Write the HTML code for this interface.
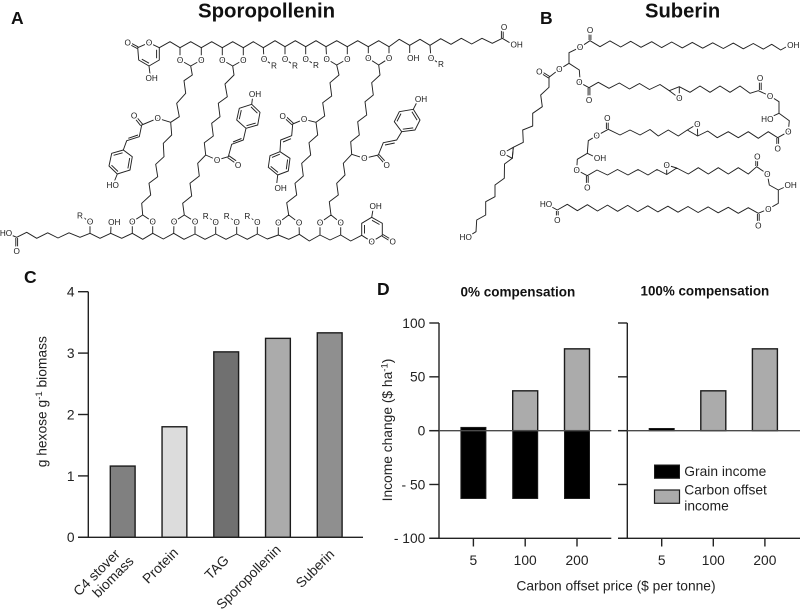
<!DOCTYPE html>
<html lang="en">
<head>
<meta charset="utf-8">
<title>Sporopollenin and suberin figure</title>
<style>
html,body{margin:0;padding:0;background:#fff;}
svg{display:block;font-family:"Liberation Sans",sans-serif;}
.b{fill:none;stroke:#222;stroke-width:.95;stroke-linejoin:round;}
.a text{font-size:8.2px;text-anchor:middle;fill:#1a1a1a;stroke:#fff;stroke-width:3.4px;paint-order:stroke;}
.l{font-size:13.8px;fill:#222;}
.t{font-weight:bold;fill:#111;}
</style>
</head>
<body>
<svg id="fig" width="800" height="613" viewBox="0 0 800 613" xmlns="http://www.w3.org/2000/svg">
<rect width="800" height="613" fill="#fff"/>
<text class="t" x="11" y="24" font-size="17.5">A</text>
<text class="t" x="540" y="24" font-size="17.5">B</text>
<text class="t" x="24" y="283" font-size="17.5">C</text>
<text class="t" x="377" y="295" font-size="17.5">D</text>
<text class="t" x="198" y="17.5" font-size="20.4">Sporopollenin</text>
<text class="t" x="645" y="17.5" font-size="20.2">Suberin</text>

<g>
<path class="b" d="M159.3,47.7 L170,41.7 180,47.7 190.7,41.7 201.3,47.7 211.7,41.7 222.3,47.7 232.7,41.7 243.3,47.7 253.3,41.7 263.3,47.7 275,40.7 285,46.7 295.3,40.7 305.7,46.7 316,40.7 326,46.7 336.7,40.7 347.3,46.7 357.7,40.7 368.3,46.7 378.7,40.7 389,46.7 399.3,39.3 409.7,45.3 420,39.3 430,45.3 440.7,38.7 451,44.3 461.3,38.3 471.7,44 482,38.3 492.3,43.3 502.3,38.3 511,43.5 M501.4,38 V27 M503.2,38 V27"/>
<path class="b" d="M180,47.7 V60 L190.7,66 201.3,60 V47.7 M222.3,47.7 V60 L232.7,66 243.3,60 V47.7 M326,46.7 L326.7,59 336.7,65 347.3,59 V46.7 M368.3,46.7 V58.3 L378.7,65 389,58.3 V46.7 M263.3,47.7 L264,59.3 274,65.7 M285,46.7 V59.3 L295,65.7 M305.7,46.7 V59.3 L316,65 M409.7,45.3 V53 M430,45.3 L431,58.3 441,64.3"/>
<path class="b" d="M159.3,47.7 L149,42.7 137.7,47.7 138.7,60 149,66 159.3,60 Z M141.8,59.2 L149,63.2 M156.6,58.2 V49.8 M137.2,48.5 L128,43.6 M138.2,46.9 L129,42 M149,66 L150,74"/>
<path class="b" d="M190.7,66 L192.3,75 184,80.7 185.7,93.3 176.7,103.3 179.3,116.7 170.7,122.3 171.7,135 163.3,143.3 164,156.7 155.7,164.3 157.7,176.7 149,183.3 150.7,195 141.7,203.3 142.7,215 M170.7,122.3 L157.7,118.3 141.7,125 139.3,136.7 126.7,140.7 123.3,150 M140.7,125.7 L135,118.5 M142.7,124.3 L137,117.5 M128.3,138.3 L138,135 M232.7,66 L234,75 225,84 227.3,96.7 218.3,103.3 220,116.7 211.7,123.3 213.3,136 204.3,142.7 205.7,155 197.7,163.3 199.3,176 190,183.3 191.7,196 182.7,203.3 184.3,215 M205.7,155 L217,160 228.3,156.7 231.7,144.3 243.3,140 246,128.3 M227.6,157.6 L235.8,163.4 M229,155.8 L237.6,161.8 M233,142 L241.5,138.5"/>
<path class="b" d="M336.7,65 L339,75 330,82.7 331.7,96 322.7,102.7 324.7,116 316,122.3 317.7,135 309,142.7 310.7,155 301.7,163.3 303.3,176 295,183.3 296.7,195 286.7,202.7 288.7,215 M316,122.3 L304,119.3 292.7,124 291.7,135.7 280.7,140 280,151.7 M292,124.8 L284.5,118 M293.4,123.2 L285.5,116 M283,142 L291,138.7 M378.7,65 L380,75 371.7,82.7 373.3,95 365,101.7 366.7,115 357.7,121.7 359.3,135 350.7,141.7 351.7,154.3 343.3,163.3 345,175 336.7,183.3 338.3,195 329.3,201.7 331,215 M351.7,154.3 L364.3,158.3 378.3,155 383.3,142.7 396.7,140 401.7,131.7 M377.6,155.8 L384.8,164 M379.1,154.6 L386.3,162.6 M385,145 L394.7,143"/>
<path class="b" d="M123.3,150 L132.3,156.7 130,170 117.3,174 109,166 111.7,153.3 Z M129.7,158 L127.9,168.4 M118,171.5 L111.5,165.2 M113.6,155.3 L122.6,152.8 M117.3,174 L114.5,181 M246,128.3 L236.7,120 239.3,108.3 251.7,104.3 260,112.3 257.7,125 Z M239.3,119.2 L241.3,110.1 M251,106.9 L257.4,113.2 M255.7,123.1 L246.5,125.7 M251.7,104.3 L252.5,98 M280,151.7 L290,158.3 288.3,171 277.7,175 268.3,167.3 270,155.7 Z M287.6,159.4 L286.3,169.3 M278,172.4 L270.7,166.4 M272,157.4 L279.8,154.2 M277.7,175 L276.8,183 M401.7,131.7 L394.3,121.7 399.3,111.7 413.3,109.3 420,120 415,130 Z M397,121.4 L401,113.6 M411.9,111.7 L417.1,120.1 M413.2,127.9 L402.8,129.2 M413.3,109.3 L416.5,103"/>
<path class="b" d="M10,234.5 L16.7,237.3 26.7,232.3 36.7,238.3 47.7,232.8 58,238 69,232.8 80,237.3 90,233.3 100,238.3 110.7,233.3 121.7,238.3 132.3,233.3 142.7,239.3 152.7,233.3 163.3,239 173.7,233.3 184,239.3 195,234 205,239.3 215.7,234 226,239.3 236.7,234 247.3,239.3 257.3,234 267.3,239 278.3,235 288.7,239.3 299.3,234.3 309.3,241 320,235 330,240 340.7,235 350.7,241 361.7,235.3 M15.8,238 V248 M17.6,238 V248"/>
<path class="b" d="M90,233.3 V221.7 L80,215.7 M110.7,233.3 L111,226 M132.3,233.3 V221.7 L142.7,215 152.7,221.7 V233.3 M173.7,233.3 L174,221.7 184.3,215 195,221.7 V234 M215.7,234 V222.3 L205.7,216 M236.7,234 V222.3 L226.7,216 M257.3,234 V222.3 L247.3,216 M278.3,235 V222.7 L288.7,215 299,222.7 299.3,234.3 M320,235 V222.7 L331,215 340.7,222.7 V235"/>
<path class="b" d="M361.7,235.3 L371.7,241.7 382.3,235.3 V223.3 L371.7,217.3 361.7,223.3 Z M364.5,225 V233.5 M372,220.3 L379.5,224.5 M382,236.1 L391,241.6 M382.9,234.5 L392,240 M371.7,217.3 L373,209.5"/>
<g class="a">
<text x="127.7" y="45.6">O</text><text x="149" y="45.6">O</text><text x="151.7" y="81.2">OH</text>
<text x="180" y="62.9">O</text><text x="201.3" y="62.9">O</text><text x="222.3" y="62.9">O</text><text x="243.3" y="62.9">O</text>
<text x="264" y="62.2">O</text><text x="274" y="68.6">R</text><text x="285" y="62.2">O</text><text x="295" y="68.6">R</text><text x="305.7" y="62.2">O</text><text x="316" y="67.9">R</text>
<text x="326.7" y="61.9">O</text><text x="347.3" y="61.9">O</text><text x="368.3" y="61.2">O</text><text x="389" y="61.2">O</text>
<text x="413.3" y="61.2">OH</text><text x="431" y="61.2">O</text><text x="441" y="67.2">R</text><text x="504" y="29.9">O</text><text x="516.7" y="47.6">OH</text>
<text x="157.7" y="121.2">O</text><text x="134" y="118.6">O</text><text x="112.7" y="188.2">HO</text>
<text x="217" y="162.9">O</text><text x="238" y="167.9">O</text><text x="255" y="96.9">OH</text>
<text x="304" y="122.2">O</text><text x="282.7" y="118.9">O</text><text x="280.7" y="191.2">OH</text>
<text x="364.3" y="161.2">O</text><text x="386.7" y="167.9">O</text><text x="421" y="101.9">OH</text>
<text x="132.3" y="224.6">O</text><text x="152.7" y="224.6">O</text><text x="174" y="224.6">O</text><text x="195" y="224.6">O</text>
<text x="278.3" y="225.6">O</text><text x="299" y="225.6">O</text><text x="320" y="225.6">O</text><text x="340.7" y="225.6">O</text>
<text x="90" y="224.6">O</text><text x="80" y="218.6">R</text><text x="114.3" y="225.2">OH</text>
<text x="205.7" y="218.9">R</text><text x="215.7" y="225.2">O</text><text x="226.7" y="218.9">R</text><text x="236.7" y="225.2">O</text><text x="247.3" y="218.9">R</text><text x="257.3" y="225.2">O</text>
<text x="6" y="236.2">HO</text><text x="16.7" y="253.9">O</text><text x="375.7" y="208.9">OH</text><text x="371.7" y="244.6">O</text><text x="392.7" y="244.6">O</text>
</g>
</g>

<g>
<path class="b" d="M559.3,69.3 L569,63.3 569,52.7 580,47.3 590,40.7 600,46.7 610,40.9 620.7,47 630.7,41.3 641,47.3 651.7,41.7 661.7,47.6 671.7,42 682.3,47.9 692.3,42.4 702.7,48.2 712.7,42.8 723.3,48.5 733.3,43.1 743.3,48.8 753.3,43.5 763.3,49.1 771.7,44.3 780.7,50 786,47 M589.1,40 V33 M590.9,40 V33"/>
<path class="b" d="M569,63.3 L579.3,70 580,79.3 579.3,82.3 589,87.7 598.3,82.3 609,88.3 619.3,83 629.5,89 639.5,83.5 649.5,89.5 660,84.5 669.3,90.7 679.3,86.7 690,92.3 700,86 710,92.3 720,86 730,92.3 740,86 750,93.3 758.3,90.7 770,96 779,101.7 779,113.3 789.3,120.7 788.3,131.7 777.7,137.7 768.3,131.7 758.3,138.3 748.3,131.7 738.3,137.7 728.3,131.7 717.3,137.7 707.7,131 697.7,136 687.3,130 678.3,136 668.3,130 658.3,136 650,129.5 640,135 630,130 620,135 608.3,129.3 596.7,135.7 588.3,140.7 587.3,153.3 577.3,159.3 576.7,170 587.3,175.7 597,170 607.5,175 617.5,169.5 628,175 638,169.5 648,175 657,169.5 666.7,174.5 676.7,168 688.3,174 698.3,167.7 708.3,174 718.3,167.7 728.3,174 738.3,167.7 748.3,174 756.7,166.7 767.3,174 769.3,185 778.3,190 778.3,203.3 768.3,209 758.3,213.3 748.3,207.7 738.3,213.3 728.3,207.3 718.2,212.8 708.1,206.9 698.1,212.5 688,206.5 678,212.2 667.9,206.2 657.8,211.9 647.8,205.8 637.7,211.6 627.7,205.4 617.6,211.3 607.5,205.1 597.5,211 587.4,204.7 577.4,210.7 567.3,204.3 557.3,210 551,206.5"/>
<path class="b" d="M588.1,88 V98 M589.9,88 V98 M759.4,90 V81 M761.2,90 V81 M776.8,138 V146 M778.6,138 V146 M606.4,129 V121 M608.2,129 V121 M586.4,176 V185 M588.2,176 V185 M755.8,166 V159.5 M757.6,166 V159.5 M757.4,214 V223 M759.2,214 V223 M556.4,211 V218 M558.2,211 V218 M779,113.3 L771,117 M587.3,153.3 L595,157 M778.3,190 L786,186.5"/>
<path class="b" d="M669.3,90.7 L679.3,98.3 679.3,86.7 M687.3,130 L697.3,124 697.7,136 M666.7,174.5 L666.7,165 676.7,168 M513.3,147.3 L502.7,153.3 512.3,158.3 Z"/>
<path class="b" d="M559.3,69.3 L549,77.3 549,87.3 540.7,95 542.3,106.7 532.7,113.3 532.7,126 522.7,130 523.3,142.3 513.3,147.3 512.3,158.3 504.5,164 504.3,178.3 495,185 495,196.7 485.7,201.7 485.7,215 476.7,220 476,231.7 470.7,235 M548.5,78 L541.5,73.5 M549.5,76.4 L542.5,72"/>
<g class="a">
<text x="590" y="32.9">O</text><text x="580" y="50.2">O</text><text x="793.3" y="47.9">OH</text><text x="559.3" y="72.2">O</text><text x="539.3" y="74.6">O</text><text x="579.3" y="85.2">O</text><text x="589" y="102.9">O</text><text x="679.3" y="101.2">O</text>
<text x="760" y="81.2">O</text><text x="770" y="98.9">O</text><text x="767.3" y="121.9">HO</text><text x="788.3" y="134.6">O</text><text x="777.7" y="151.6">O</text><text x="697.3" y="126.9">O</text>
<text x="607.3" y="121.2">O</text><text x="596.7" y="138.6">O</text><text x="600" y="161.2">OH</text><text x="576.7" y="172.9">O</text><text x="587.3" y="190.6">O</text><text x="666.7" y="167.9">O</text>
<text x="757.3" y="159.6">O</text><text x="767.3" y="176.9">O</text><text x="790.7" y="187.9">OH</text><text x="768.3" y="211.9">O</text><text x="758.3" y="228.6">O</text><text x="546" y="207.2">HO</text><text x="557.3" y="222.9">O</text><text x="502.7" y="156.2">O</text><text x="465.7" y="240.2">HO</text>
</g>
</g>

<g id="chart-c"></g>
<g id="chart-d"></g>
</svg>

<script>
const hexoseCategories = ['C4 stover', 'Protein', 'TAG', 'Sporopollenin', 'Suberin'];
const hexoseValues = [1.16, 1.8, 3.02, 3.24, 3.33];
const hexoseTicks = [0, 1, 2, 3, 4];
const hexoseColors = ['#808080', '#dcdcdc', '#707070', '#ababab', '#8f8f8f'];

const priceCategories = ['5', '100', '200'];
const incomeTicks = [100, 50, 0, -50, -100];
const incomeTickLabels = ['100', '50', '0', '- 50', '- 100'];
const grainLossNoComp = [-63, -63, -63];
const grainGainNoComp = [3, 0, 0];
const carbonNoComp = [0, 37, 76];
const grainGainFullComp = [2, 0, 0];
const carbonFullComp = [0, 37, 76];

const NS = 'http://www.w3.org/2000/svg';
function mk(parent, tag, attrs, txt) {
  const el = document.createElementNS(NS, tag);
  for (const k in attrs) el.setAttribute(k, attrs[k]);
  if (txt !== undefined) el.textContent = txt;
  parent.appendChild(el);
  return el;
}
const AX = '#222';

/* ---------- panel C ---------- */
const gc = document.getElementById('chart-c');
const yC = v => 537.3 - v * (537.3 - 291.7) / 4;
const bandC = i => 110.3 + i * 51.75;

hexoseValues.forEach((v, i) => {
  const bar = mk(gc, 'rect', {x: bandC(i), y: yC(v), width: 24.8, height: yC(0) - yC(v), fill: hexoseColors[i], stroke: '#1c1c1c', 'stroke-width': 1.4});
  
  
});
const axisC = mk(gc, 'line', {x1: 88.3, x2: 88.3, y1: yC(4), y2: yC(0), stroke: AX, 'stroke-width': 1.4});


const baseC = mk(gc, 'line', {x1: 78, x2: 363, y1: yC(0), y2: yC(0), stroke: AX, 'stroke-width': 1.4});


hexoseTicks.forEach(v => {
  const tick = mk(gc, 'line', {x1: 78, x2: 88.3, y1: yC(v), y2: yC(v), stroke: AX, 'stroke-width': 1.4});
  
  
  const lab = mk(gc, 'text', {class: 'l', x: 74.5, y: yC(v) + 4.9, 'text-anchor': 'end'}, String(v));
  
  
});
hexoseCategories.forEach((c, i) => {
  const cx = bandC(i) + 12.4;
  const ends = [-2, 4.6, 3.5, 3.7, 5.5];
  const ys = [555, 553.5, 561, 550.5, 555];
  const ex = cx + ends[i], ey = ys[i];
  const lab = mk(gc, 'text', {class: 'l', x: ex, y: ey, 'text-anchor': 'end', transform: 'rotate(-45 ' + ex + ' ' + ey + ')'}, c);
  
  
});
const bioLab = mk(gc, 'text', {class: 'l', x: 134.5, y: 562, 'text-anchor': 'end', transform: 'rotate(-45 134.5 562)'}, 'biomass');



const yTitleC = mk(gc, 'text', {class: 'l', 'text-anchor': 'middle', transform: 'translate(46.5 401.7) rotate(-90)'});


mk(yTitleC, 'tspan', {}, 'g hexose g');
mk(yTitleC, 'tspan', {'font-size': 9.5, dy: -4.5}, '-1');
mk(yTitleC, 'tspan', {dy: 4.5}, ' biomass');

/* ---------- panel D ---------- */
const gd = document.getElementById('chart-d');
const yD = v => 430.65 - v * (538.3 - 323) / 200;
const barW = 25;
const panels = [
  {axis: 439, start: 429.3, end: 611.3, first: 460.9, step: 51.8, loss: grainLossNoComp, gain: grainGainNoComp, carbon: carbonNoComp, key: 'no-compensation'},
  {axis: 627.3, start: 618, end: 800, first: 649.2, step: 51.6, loss: [0, 0, 0], gain: grainGainFullComp, carbon: carbonFullComp, key: 'full-compensation'}
];
panels.forEach((p, pi) => {
  priceCategories.forEach((c, i) => {
    const x = p.first + i * p.step;
    if (p.carbon[i] !== 0) {
      const r = mk(gd, 'rect', {x: x, y: yD(p.carbon[i]), width: barW, height: yD(0) - yD(p.carbon[i]), fill: '#ababab', stroke: '#1c1c1c', 'stroke-width': 1.4});
      
      
    }
    const top = p.gain[i], bot = p.loss[i];
    if (top !== 0 || bot !== 0) {
      const r = mk(gd, 'rect', {x: x, y: yD(top), width: barW, height: yD(bot) - yD(top), fill: '#000', stroke: '#1c1c1c', 'stroke-width': 1});
      
      
    }
    const tx = x + barW / 2;
    const tick = mk(gd, 'line', {x1: tx, x2: tx, y1: 538.3, y2: 546.5, stroke: AX, 'stroke-width': 1.4});
    
    
    const lab = mk(gd, 'text', {class: 'l', x: tx, y: 565, 'text-anchor': 'middle'}, c);
    
    
  });
  const ax = mk(gd, 'line', {x1: p.axis, x2: p.axis, y1: yD(100), y2: yD(-100), stroke: AX, 'stroke-width': 1.4});
  
  
  const bottom = mk(gd, 'line', {x1: p.start, x2: p.end, y1: yD(-100), y2: yD(-100), stroke: AX, 'stroke-width': 1.4});
  
  
  const zero = mk(gd, 'line', {x1: p.start, x2: p.end, y1: yD(0), y2: yD(0), stroke: '#4a4a4a', 'stroke-width': 1.4});
  
  
  incomeTicks.forEach((v, i) => {
    const t = mk(gd, 'line', {x1: p.start, x2: p.axis, y1: yD(v), y2: yD(v), stroke: AX, 'stroke-width': 1.4});
    
    
    if (pi === 0) {
      const lab = mk(gd, 'text', {class: 'l', x: 425.3, y: yD(v) + 4.9, 'text-anchor': 'end'}, incomeTickLabels[i]);
      
      
    }
  });
});

const title0 = mk(gd, 'text', {class: 't', x: 460.5, y: 296.7, 'font-size': 13.5}, '0% compensation');


const title100 = mk(gd, 'text', {class: 't', x: 640.5, y: 295.7, 'font-size': 13.4}, '100% compensation');



const xTitleD = mk(gd, 'text', {class: 'l', x: 616, y: 590.5, 'text-anchor': 'middle'}, 'Carbon offset price ($ per tonne)');



const yTitleD = mk(gd, 'text', {class: 'l', 'text-anchor': 'middle', transform: 'translate(392 430) rotate(-90)'});


mk(yTitleD, 'tspan', {}, 'Income change ($ ha');
mk(yTitleD, 'tspan', {'font-size': 9.5, dy: -4.5}, '-1');
mk(yTitleD, 'tspan', {dy: 4.5}, ')');

const legendGrainSwatch = mk(gd, 'rect', {x: 654.5, y: 465, width: 25, height: 13.3, fill: '#000', stroke: '#1c1c1c', 'stroke-width': 1});


const legendGrainText = mk(gd, 'text', {class: 'l', x: 684.3, y: 476.2}, 'Grain income');


const legendCarbonSwatch = mk(gd, 'rect', {x: 654.5, y: 490, width: 25, height: 13.3, fill: '#ababab', stroke: '#1c1c1c', 'stroke-width': 1.2});


const legendCarbonText = mk(gd, 'text', {class: 'l', x: 684.3, y: 494.7}, 'Carbon offset');


const legendCarbonText2 = mk(gd, 'text', {class: 'l', x: 684.3, y: 510.7}, 'income');


</script>
</body>
</html>
